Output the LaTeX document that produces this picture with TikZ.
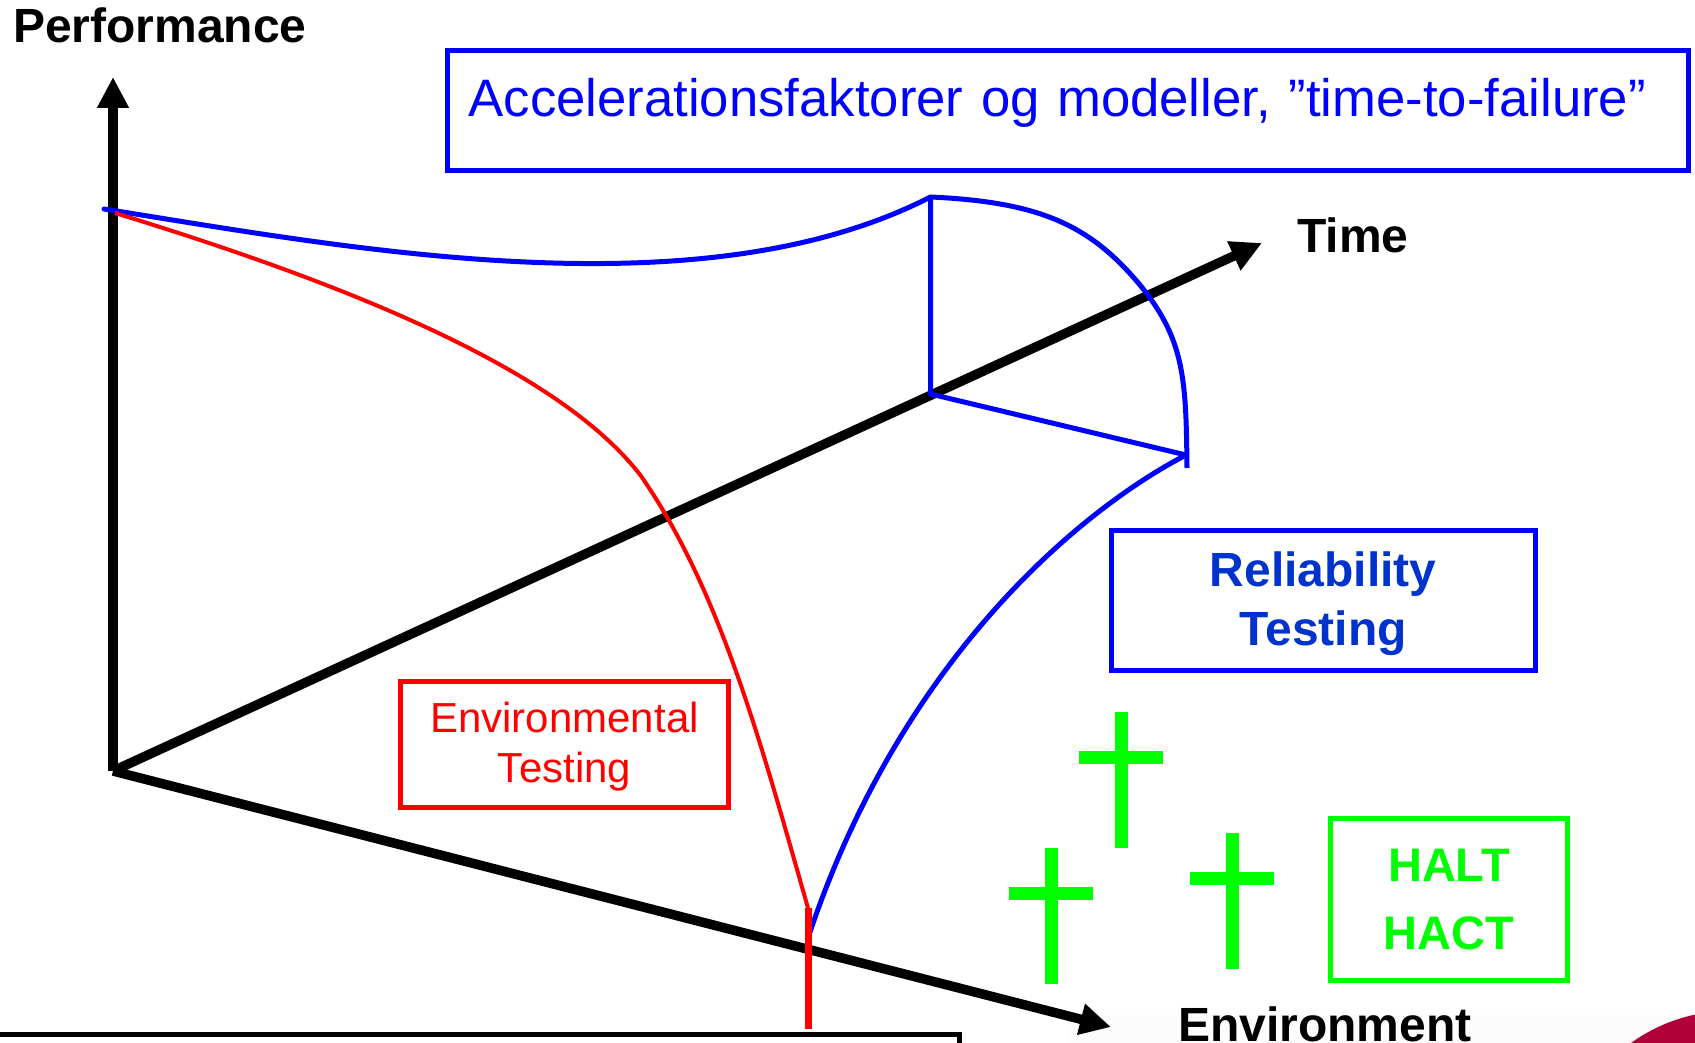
\documentclass[tikz,border=0pt]{standalone}
\usepackage{fontspec}
\setmainfont{Liberation Sans}
\usetikzlibrary{arrows.meta}

\definecolor{lineblue}{RGB}{0,0,255}
\definecolor{textblue}{RGB}{0,51,204}
\definecolor{linered}{RGB}{255,0,0}
\definecolor{haltgreen}{RGB}{0,255,0}
\definecolor{logored}{RGB}{176,0,58}
\definecolor{footgray}{RGB}{252,252,252}

\tikzset{
  axisarrow/.style={line width=9.5pt, -{Triangle[length=31pt,width=30pt]}},
  boxed/.style={draw, line width=5pt, inner sep=0pt, align=center},
  axislabel/.style={anchor=base west, inner sep=0pt, font=\fontsize{48}{56}\selectfont\bfseries},
  crossbar/.style={haltgreen, line width=13pt},
}

\begin{document}
\begin{tikzpicture}[x=1pt,y=1pt,yscale=-1,xscale=1]
\useasboundingbox (0,0) rectangle (1695,1043);
\clip (0,0) rectangle (1695,1043);

%Footer band and logo
\fill [footgray] (1067,1015) rectangle (1700,1050);
\fill [logored] (1730,1180) circle (169);
%Box cut off at the bottom
\draw [line width=5pt] (-10,1034.5) -| (959.5,1060);

%Axes
\coordinate (O) at (113,771);
\coordinate (perf) at (113,77);
\coordinate (time) at (1262,243);
\coordinate (env) at (1111,1027);
\draw [axisarrow] (O) -- (perf);
\draw [axisarrow] (O) -- (time);
\draw [axisarrow] (O) -- (env);

%Blue curves
\coordinate (b0) at (104,209);
\coordinate (b1) at (930.5,197);
\coordinate (b2) at (930.5,394);
\coordinate (b3) at (1186,455);
\coordinate (b4) at (808,938);
\coordinate (b5) at (1187,468);
\draw [lineblue, line width=5pt, line cap=round] (b0) .. controls (350,248) and (700,315) .. (b1);
\draw [lineblue, line width=5pt] (b1) -- (b2) -- (b3);
\draw [lineblue, line width=5pt] (b1) .. controls (1040,202) and (1090,225) .. (1140,285) .. controls (1185,340) and (1186,380) .. (b5);
\draw [lineblue, line width=5pt] (b3) .. controls (1080,510) and (900,660) .. (b4);

%Red curve
\coordinate (r0) at (115,213);
\coordinate (r1) at (641,476);
\coordinate (r2) at (808,908);
\coordinate (r3) at (808,1029);
\draw [linered, line width=4pt] (r0) .. controls (350,285) and (560,370) .. (r1) .. controls (720,590) and (760,740) .. (r2);
\draw [linered, line width=7pt] (r2) -- (r3);

%Crosses
\foreach \cx/\cy in {1121/712, 1051/848, 1232/833} {
  \draw [crossbar] (\cx,\cy) -- (\cx,\cy+136);
  \draw [crossbar] (\cx-42,\cy+45) -- (\cx+42,\cy+45);
}

% Text Node
\node [axislabel] (perflabel) at (13,43) {Performance};
\node [axislabel] (timelabel) at (1297,253) {Time};
\node [axislabel] (envlabel) at (1178,1041) {Environment};

% Boxes
\node [boxed, draw=lineblue, text=lineblue, anchor=north west, inner xsep=21pt, inner ysep=0pt,
  text width=1199pt, align=left, text height=66pt, text depth=54pt,
  font=\fontsize{52.7}{64}\selectfont] (accbox) at (445,48.5) {Accelerationsfaktorer og modeller, ”time-to-failure”};
\node [boxed, draw=lineblue, text=textblue, minimum width=423.5pt, minimum height=140pt,
  font=\fontsize{48}{59}\selectfont\bfseries] (reltest) at (1323.25,600.5) {\rule{0pt}{41pt}Reliability\\Testing};
\node [boxed, draw=linered, text=linered, minimum width=328pt, minimum height=126pt,
  font=\fontsize{42}{50}\selectfont] (envtest) at (564.5,744.5) {\rule{0pt}{35pt}Environmental\\Testing};
\node [boxed, draw=haltgreen, text=haltgreen, minimum width=237pt, minimum height=162pt,
  font=\fontsize{47}{68}\selectfont\bfseries] (halt) at (1449,899.5) {HALT\\HACT};

\end{tikzpicture}
\end{document}
